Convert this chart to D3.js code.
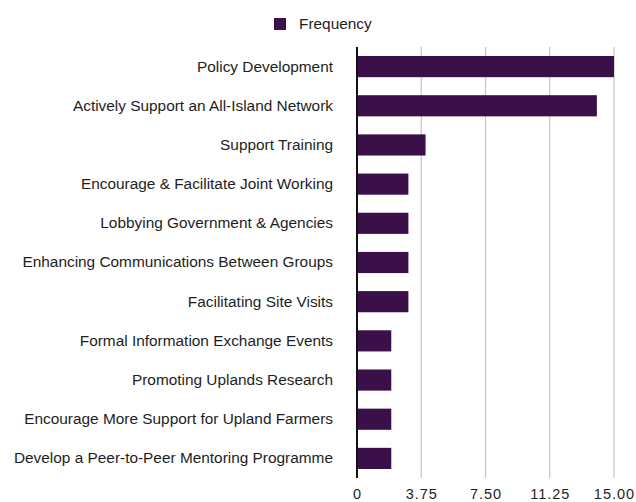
<!DOCTYPE html>
<html>
<head>
<meta charset="utf-8">
<script src="https://cdn.jsdelivr.net/npm/d3@7"></script>
<style>
  html, body { margin: 0; padding: 0; background: #fff; }
  svg { display: block; font-family: "Liberation Sans", Arial, Helvetica, sans-serif; }
</style>
</head>
<body>
<svg id="chart" width="636" height="502"></svg>
<script>
// Survey priorities and how often each was named
const categories = [
  "Policy Development",
  "Actively Support an All-Island Network",
  "Support Training",
  "Encourage & Facilitate Joint Working",
  "Lobbying Government & Agencies",
  "Enhancing Communications Between Groups",
  "Facilitating Site Visits",
  "Formal Information Exchange Events",
  "Promoting Uplands Research",
  "Encourage More Support for Upland Farmers",
  "Develop a Peer-to-Peer Mentoring Programme"
];
const frequency = [15, 14, 4, 3, 3, 3, 3, 2, 2, 2, 2];
const tickValues = [0, 3.75, 7.5, 11.25, 15];
const tickLabels = ["0", "3.75", "7.50", "11.25", "15.00"];
const seriesName = "Frequency";

const barColor = "#3b1049";
const gridColor = "#c9c3c3";
const textColor = "#1e1e1e";

const svg = d3.select("#chart");
const margin = { top: 47, right: 22, bottom: 24, left: 357 };
const width = 636 - margin.left - margin.right;
const height = 502 - margin.top - margin.bottom;

const x = d3.scaleLinear().domain([0, 15]).range([0, width]);
const y = d3.scaleBand().domain(categories).range([0, height]).paddingInner(0.46).paddingOuter(0.23);

const g = svg.append("g").attr("transform", `translate(${margin.left},${margin.top})`);

// Vertical grid lines
g.append("g")
  .selectAll("line")
  .data(tickValues.slice(1))
  .join("line")
  .attr("x1", d => x(d)).attr("x2", d => x(d))
  .attr("y1", 0).attr("y2", height)
  .attr("stroke", gridColor)
  .attr("stroke-width", 1.2);

// Bars
g.append("g")
  .selectAll("rect")
  .data(categories.map((c, i) => ({ c, v: frequency[i] })))
  .join("rect")
  .attr("x", 0)
  .attr("y", d => y(d.c))
  .attr("width", d => x(d.v))
  .attr("height", y.bandwidth())
  .attr("fill", barColor);

// Category labels
const yAxis = d3.axisLeft(y).tickSize(0).tickPadding(24);
const yg = g.append("g").call(yAxis);
yg.select(".domain").remove();
yg.selectAll("text")
  .attr("font-size", 15.4)
  .attr("fill", textColor)
  .attr("font-family", "Liberation Sans, Arial, sans-serif");

// Zero baseline
g.append("line")
  .attr("x1", 0).attr("x2", 0)
  .attr("y1", 0).attr("y2", height)
  .attr("stroke", "#111")
  .attr("stroke-width", 2);

// Value axis labels
const xAxis = d3.axisBottom(x)
  .tickValues(tickValues)
  .tickSize(0)
  .tickPadding(11)
  .tickFormat((d, i) => tickLabels[i]);
const xg = g.append("g").attr("transform", `translate(0,${height})`).call(xAxis);
xg.select(".domain").remove();
xg.selectAll("text")
  .attr("font-size", 14.5)
  .attr("letter-spacing", 1)
  .attr("fill", textColor)
  .attr("font-family", "Liberation Sans, Arial, sans-serif");

// Legend
const legend = svg.append("g").attr("transform", "translate(274,18)");
legend.append("rect").attr("width", 12).attr("height", 12).attr("fill", barColor);
legend.append("text")
  .attr("x", 25).attr("y", 6)
  .attr("dy", "0.35em")
  .attr("font-size", 15.4)
  .attr("fill", textColor)
  .text(seriesName);
</script>
</body>
</html>
